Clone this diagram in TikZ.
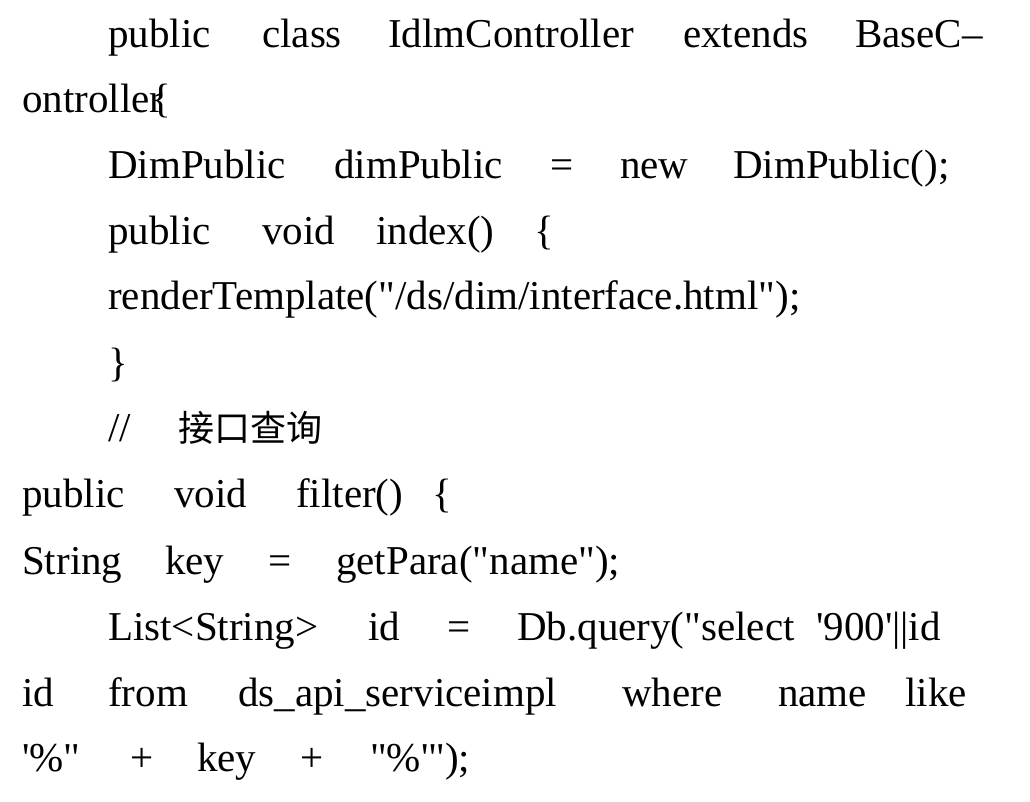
\documentclass[tikz,border=0pt]{standalone}
\usepackage{fontspec}
\setmainfont{Liberation Serif}[Ligatures=TeXReset]
\newfontfamily\cjk{Noto Sans CJK SC}
\begin{document}
\begin{tikzpicture}[x=1pt,y=-1pt,wd/.style={anchor=base west,inner sep=0pt,font=\fontsize{41}{46}\selectfont}]
\useasboundingbox (0,0) rectangle (1030,801);
\def\W#1#2#3#4{\node[wd] (#1) at (#2,#3) {#4};}
\W{a1}{108}{47}{public}\W{a2}{262}{47}{class}\W{a3}{388}{47}{IdlmController}\W{a4}{683}{47}{extends}\W{a5}{855}{47}{BaseC–}
\W{b1}{22}{112}{ontroller}\W{b2}{151}{112}{\{}
\W{c1}{108}{178}{DimPublic}\W{c2}{334}{178}{dimPublic}\W{c3}{550}{178}{=}\W{c4}{620}{178}{new}\W{c5}{733}{178}{DimPublic();}
\W{d1}{108}{244}{public}\W{d2}{262}{244}{void}\W{d3}{376}{244}{index()}\W{d4}{534}{244}{\{}
\W{e1}{108}{309}{renderTemplate("/ds/dim/interface.html");}
\W{f1}{108}{376}{\}}
\W{g1}{108}{441}{//}\W{g2}{178}{441}{\cjk\fontsize{36}{40}\selectfont 接口查询}
\W{h1}{22}{507}{public}\W{h2}{174}{507}{void}\W{h3}{296}{507}{filter()}\W{h4}{432}{507}{\{}
\W{i1}{22}{574}{String}\W{i2}{165}{574}{key}\W{i3}{268}{574}{=}\W{i4}{336}{574}{getPara("name");}
\W{j1}{108}{640}{List<String>}\W{j2}{368}{640}{id}\W{j3}{447}{640}{=}\W{j4}{517}{640}{Db.query("select}\W{j5}{816}{640}{'900'||id}
\W{k1}{22}{706}{id}\W{k2}{108}{706}{from}\W{k3}{238}{706}{ds\_api\_serviceimpl}\W{k4}{622}{706}{where}\W{k5}{778}{706}{name}\W{k6}{905}{706}{like}
\W{m1}{22}{771}{'\%"}\W{m2}{130}{771}{+}\W{m3}{197}{771}{key}\W{m4}{300}{771}{+}\W{m5}{370}{771}{"\%'");}
\end{tikzpicture}
\end{document}
